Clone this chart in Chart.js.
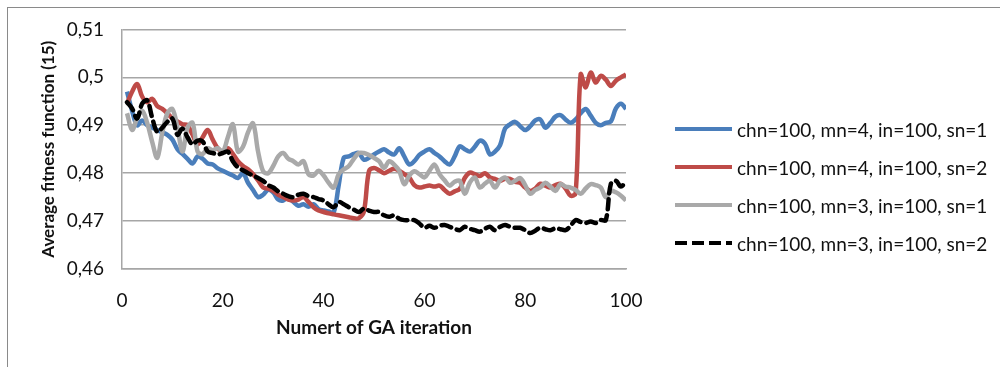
<!DOCTYPE html>
<html>
<head>
<meta charset="utf-8">
<script src="https://cdn.jsdelivr.net/npm/chart.js@4/dist/chart.umd.min.js"></script>
<style>
  html, body { margin: 0; padding: 0; background: #fff; }
  #wrap { position: relative; width: 1000px; height: 367px; overflow: hidden; }
  #frame { position: absolute; left: 7px; top: 7px; width: 1000px; height: 400px;
           border-left: 1px solid #8a8a8a; border-top: 1px solid #8a8a8a; }
  canvas { position: absolute; left: 0; top: 0; }
  #legend { position: absolute; left: 675px; top: 0; font-family: Lato, sans-serif; font-size: 19px; color: #111; }
  .item { position: absolute; left: 0; white-space: nowrap; display: flex; align-items: center; }
  .item svg { margin-right: 5px; }
</style>
</head>
<body>
<div id="wrap">
  <div id="frame"></div>
  <canvas id="chart" width="1000" height="367"></canvas>
  <div id="legend"></div>
</div>
<script>
// iterations of the GA
const iterations = Array.from({ length: 100 }, (_, i) => i + 1);

const seriesNames = [
    'chn=100, mn=4, in=100, sn=1',
    'chn=100, mn=4, in=100, sn=2',
    'chn=100, mn=3, in=100, sn=1',
    'chn=100, mn=3, in=100, sn=2'
];

const blueValues = [
    0.497, 0.493, 0.490, 0.491, 0.490, 0.4895, 0.489, 0.4885, 0.488, 0.487,
    0.485, 0.484, 0.483, 0.482, 0.4835, 0.483, 0.482, 0.4818, 0.481, 0.4805,
    0.480, 0.4795, 0.479, 0.480, 0.478, 0.4765, 0.475, 0.4755, 0.4765, 0.476,
    0.4745, 0.4743, 0.475, 0.474, 0.4732, 0.4735, 0.473, 0.4735, 0.4725, 0.4722,
    0.472, 0.4718, 0.4775, 0.4832, 0.4835, 0.484, 0.4842, 0.4828, 0.4832, 0.4839,
    0.4845, 0.485, 0.4843, 0.4839, 0.4852, 0.4835, 0.4818, 0.4825, 0.4838, 0.4845,
    0.485, 0.4842, 0.4835, 0.4825, 0.4818, 0.4835, 0.4856, 0.485, 0.4845, 0.4855,
    0.4868, 0.4862, 0.4839, 0.4845, 0.4858, 0.4893, 0.4902, 0.4907, 0.4898, 0.489,
    0.4898, 0.491, 0.4912, 0.4895, 0.4905, 0.4918, 0.4921, 0.4912, 0.4905, 0.4912,
    0.4925, 0.4934, 0.492, 0.4905, 0.490, 0.4905, 0.4908, 0.4935, 0.4945, 0.4934
];

const redValues = [
    0.4945, 0.497, 0.4986, 0.496, 0.4948, 0.4955, 0.494, 0.4934, 0.4925, 0.4914,
    0.4908, 0.4902, 0.490, 0.488, 0.486, 0.4875, 0.489, 0.487, 0.4852, 0.4845,
    0.4852, 0.484, 0.4825, 0.4815, 0.4808, 0.4798, 0.4785, 0.477, 0.4768, 0.4763,
    0.4755, 0.475, 0.4745, 0.4743, 0.4745, 0.475, 0.474, 0.4729, 0.4722, 0.4719,
    0.4716, 0.4714, 0.4712, 0.471, 0.4708, 0.4706, 0.4706, 0.472, 0.4804, 0.4811,
    0.4806, 0.480, 0.4805, 0.4809, 0.4805, 0.4798, 0.4791, 0.4775, 0.477, 0.4772,
    0.4774, 0.4772, 0.4774, 0.4765, 0.4757, 0.4762, 0.4767, 0.479, 0.4801, 0.4798,
    0.4794, 0.480, 0.4791, 0.4788, 0.4784, 0.4788, 0.4788, 0.4782, 0.478, 0.477,
    0.4763, 0.4768, 0.4778, 0.4774, 0.477, 0.4775, 0.4778, 0.4768, 0.4753, 0.4758,
    0.5006, 0.4979, 0.501, 0.4989, 0.5003, 0.4995, 0.4982, 0.4993, 0.500, 0.5006
];

const grayValues = [
    0.4925, 0.489, 0.4915, 0.493, 0.4905, 0.4865, 0.4832, 0.4885, 0.4925, 0.4934,
    0.4895, 0.4845, 0.4895, 0.4905, 0.4845, 0.484, 0.4852, 0.4848, 0.4852, 0.4845,
    0.4875, 0.4902, 0.4845, 0.4855, 0.4885, 0.4904, 0.4845, 0.4804, 0.480, 0.4815,
    0.4835, 0.4842, 0.483, 0.4825, 0.4818, 0.4825, 0.4798, 0.4795, 0.4805, 0.4795,
    0.478, 0.477, 0.4798, 0.4808, 0.4815, 0.483, 0.4842, 0.4842, 0.4838, 0.4832,
    0.4825, 0.4811, 0.4825, 0.4818, 0.4805, 0.4777, 0.4795, 0.4804, 0.4798, 0.4791,
    0.4805, 0.4818, 0.4798, 0.4785, 0.4774, 0.4782, 0.4784, 0.4757, 0.478, 0.4791,
    0.477, 0.4778, 0.4784, 0.477, 0.4785, 0.4791, 0.478, 0.4784, 0.479, 0.4775,
    0.4757, 0.4765, 0.477, 0.478, 0.4772, 0.4763, 0.4777, 0.4772, 0.477, 0.4765,
    0.4757, 0.4768, 0.4777, 0.4775, 0.477, 0.475, 0.4763, 0.476, 0.4753, 0.4743
];

const blackValues = [
    0.4948, 0.4935, 0.4914, 0.4945, 0.4952, 0.4915, 0.4886, 0.4895, 0.4907, 0.4914,
    0.488, 0.4893, 0.4875, 0.486, 0.4868, 0.4866, 0.4845, 0.4842, 0.4839, 0.4842,
    0.4845, 0.4825, 0.4812, 0.4806, 0.480, 0.4795, 0.479, 0.4784, 0.4775, 0.477,
    0.4762, 0.4757, 0.4752, 0.475, 0.4755, 0.4757, 0.4752, 0.475, 0.4746, 0.4743,
    0.4735, 0.4729, 0.474, 0.4735, 0.4729, 0.4724, 0.4719, 0.4726, 0.4722, 0.4719,
    0.4719, 0.4712, 0.4709, 0.4712, 0.4705, 0.4702, 0.4702, 0.4702, 0.4695, 0.4686,
    0.469, 0.4686, 0.469, 0.4692, 0.4688, 0.4684, 0.4681, 0.4688, 0.4684, 0.4681,
    0.4678, 0.4684, 0.4688, 0.4681, 0.4688, 0.4692, 0.4688, 0.4686, 0.4686, 0.4681,
    0.4675, 0.468, 0.4686, 0.4683, 0.4681, 0.4685, 0.4683, 0.4681, 0.469, 0.4702,
    0.4698, 0.4696, 0.4699, 0.4696, 0.4702, 0.4702, 0.4778, 0.4784, 0.4772, 0.4784
];

const yTicks = [0.46, 0.47, 0.48, 0.49, 0.50, 0.51];
const xTicks = [0, 20, 40, 60, 80, 100];

const colors = ['#4a7ebb', '#be4b48', '#a9a9a9', '#000000'];
const dashes = [[], [], [], [10, 6]];
const allValues = [blueValues, redValues, grayValues, blackValues];

const datasets = allValues.map((vals, k) => ({
    label: seriesNames[k],
    data: vals.map((v, i) => ({ x: iterations[i], y: v })),
    borderColor: colors[k],
    borderWidth: 4.5,
    borderDash: dashes[k],
    borderCapStyle: k === 3 ? 'round' : 'butt',
    pointRadius: 0,
    tension: 0.35,
    fill: false
}));
// draw black on top, like the original series order
datasets.reverse();

const fontFamily = 'Lato, sans-serif';
const gridColor = '#a6a6a6';

new Chart(document.getElementById('chart'), {
    type: 'line',
    data: { datasets },
    options: {
        responsive: false,
        animation: false,
        layout: { padding: { left: 10, top: 26, right: 374, bottom: 0 } },
        plugins: { legend: { display: false }, tooltip: { enabled: false } },
        scales: {
            x: {
                type: 'linear',
                min: 0, max: 100,
                afterBuildTicks: s => { s.ticks = xTicks.map(v => ({ value: v })); },
                afterFit: s => { s.height = 98; },
                grid: { display: false, drawTicks: false },
                border: { display: true, color: gridColor, width: 1.5 },
                ticks: { padding: 20, color: '#111', font: { family: fontFamily, size: 19 } },
                title: { display: true, text: 'Numert of GA iteration', color: '#111',
                         font: { family: fontFamily, size: 19, weight: 'bold' },
                         padding: { top: 0, bottom: 28 } }
            },
            y: {
                min: 0.46, max: 0.51,
                afterBuildTicks: s => { s.ticks = yTicks.map(v => ({ value: v })); },
                afterFit: s => { s.width = 112; },
                grid: { color: gridColor, lineWidth: 1.5, drawTicks: false },
                border: { display: true, color: gridColor, width: 1.5 },
                ticks: { padding: 18, color: '#111', font: { family: fontFamily, size: 19 },
                         callback: v => String(+v.toFixed(2)).replace('.', ',') },
                title: { display: true, text: 'Average fitness function (15)', color: '#111',
                         font: { family: fontFamily, size: 17, weight: 'bold' },
                         padding: { top: 28, bottom: 0 } }
            }
        }
    }
});

// legend, built from the series
const legend = document.getElementById('legend');
const legendRows = [129, 167, 205, 243];
seriesNames.forEach((name, k) => {
    const row = document.createElement('div');
    row.className = 'item';
    row.style.top = (legendRows[k] - 12) + 'px';
    row.style.height = '24px';
    const dash = dashes[k].length ? `stroke-dasharray="12 5"` : '';
    row.innerHTML = `<svg width="57" height="6"><line x1="0" y1="3" x2="57" y2="3" stroke="${colors[k]}" stroke-width="4" ${dash}/></svg><span>${name}</span>`;
    legend.appendChild(row);
});
</script>
</body>
</html>
